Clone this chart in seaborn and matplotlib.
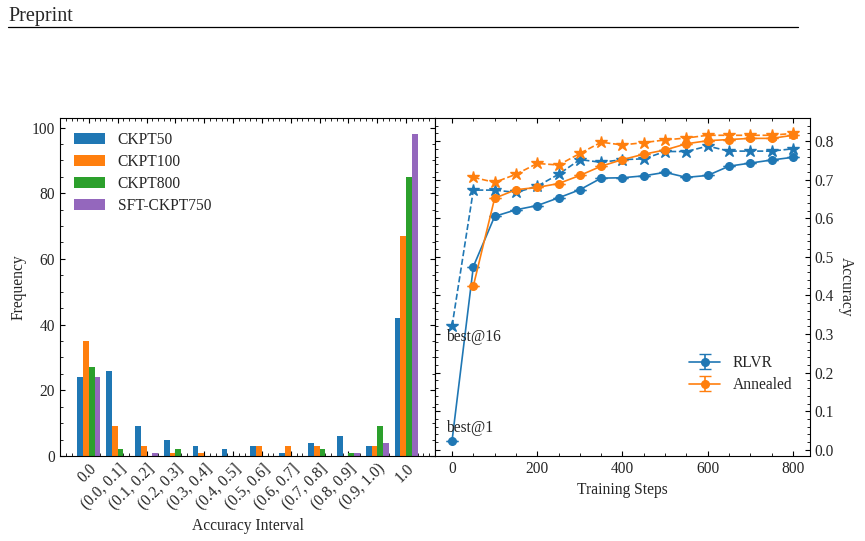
import numpy as np
import pandas as pd
import matplotlib
matplotlib.use("Agg")
import matplotlib.pyplot as plt
from matplotlib.lines import Line2D
from matplotlib.ticker import AutoMinorLocator, MultipleLocator
import seaborn as sns

# ---- data: left panel (accuracy histogram)
intervals = ['0.0', '(0.0, 0.1]', '(0.1, 0.2]', '(0.2, 0.3]', '(0.3, 0.4]', '(0.4, 0.5]',
             '(0.5, 0.6]', '(0.6, 0.7]', '(0.7, 0.8]', '(0.8, 0.9]', '(0.9, 1.0)', '1.0']
ckpt50 = [24, 26, 9, 5, 3, 2, 3, 1, 4, 6, 3, 42]
ckpt100 = [35, 9, 3, 1, 1, 0, 3, 3, 3, 0, 3, 67]
ckpt800 = [27, 2, 0, 2, 0, 0, 0, 0, 2, 1, 9, 85]
sft750 = [24, 0, 1, 0, 0, 0, 0, 0, 0, 1, 4, 98]
series_names = ['CKPT50', 'CKPT100', 'CKPT800', 'SFT-CKPT750']

# ---- data: right panel (accuracy over training)
steps = [0, 50, 100, 150, 200, 250, 300, 350, 400, 450, 500, 550, 600, 650, 700, 750, 800]
rlvr_b1 = [0.024, 0.475, 0.605, 0.622, 0.633, 0.653, 0.674, 0.704, 0.705, 0.710,
           0.719, 0.706, 0.711, 0.735, 0.743, 0.751, 0.758]
rlvr_b16 = [0.321, 0.673, 0.673, 0.667, 0.683, 0.714, 0.752, 0.745, 0.752, 0.754,
            0.773, 0.773, 0.787, 0.774, 0.774, 0.774, 0.780]
ann_steps = steps[1:]
ann_b1 = [0.425, 0.652, 0.674, 0.680, 0.690, 0.711, 0.735, 0.752, 0.766,
          0.777, 0.793, 0.801, 0.804, 0.807, 0.807, 0.815]
ann_b16 = [0.706, 0.693, 0.714, 0.742, 0.738, 0.768, 0.797, 0.790, 0.796,
           0.803, 0.808, 0.815, 0.815, 0.815, 0.815, 0.820]
rlvr_err = [0.0] * len(steps)
ann_err = [0.0] * len(ann_steps)

blue = '#1f77b4'
orange = '#ff7f0e'
palette = ['#1f77b4', '#ff7f0e', '#2ca02c', '#9467bd']

sns.set_style("ticks")
plt.rcParams['font.family'] = ['Liberation Serif', 'DejaVu Serif']
plt.rcParams['font.size'] = 11.2

fig = plt.figure(figsize=(8.65, 5.41), dpi=100)
ax1 = fig.add_axes([0.0694, 0.1571, 0.4335, 0.6248])
ax2 = fig.add_axes([0.5029, 0.1571, 0.4335, 0.6248])

# long format table for seaborn
df = pd.DataFrame({
    'interval': intervals * 4,
    'freq': ckpt50 + ckpt100 + ckpt800 + sft750,
    'model': sum([[n] * len(intervals) for n in series_names], []),
})

sns.barplot(data=df, x='interval', y='freq', hue='model', palette=palette,
            width=0.8, linewidth=0, saturation=1, ax=ax1)
ax1.set_xlim(-1, 12)
ax1.set_ylim(0, 102.9)
ax1.set_xlabel('Accuracy Interval')
ax1.set_ylabel('Frequency')
ax1.set_xticks(range(len(intervals)))
ax1.set_xticklabels(intervals, rotation=45, ha='right', rotation_mode='anchor')
ax1.yaxis.set_major_locator(MultipleLocator(20))
ax1.yaxis.set_minor_locator(MultipleLocator(5))
ax1.xaxis.set_minor_locator(AutoMinorLocator())
ax1.legend(loc='upper left', frameon=False, handlelength=2.0, borderaxespad=0.5,
           labelspacing=0.38)

# right panel
ax2.errorbar(steps, rlvr_b1, yerr=rlvr_err, color=blue, marker='o', ms=5.5,
             lw=1.2, capsize=4, label='RLVR')
ax2.errorbar(ann_steps, ann_b1, yerr=ann_err, color=orange, marker='o', ms=5.5,
             lw=1.2, capsize=4, label='Annealed')
ax2.plot(steps, rlvr_b16, color=blue, marker='*', ms=9, lw=1.2, ls='--')
ax2.plot(ann_steps, ann_b16, color=orange, marker='*', ms=9, lw=1.2, ls='--')
ax2.text(-14, 0.293, 'best@16', va='center', ha='left')
ax2.text(-14, 0.056, 'best@1', va='center', ha='left')
ax2.set_xlabel('Training Steps')
ax2.set_ylabel('Accuracy', rotation=270, labelpad=14)
ax2.yaxis.set_label_position('right')
ax2.yaxis.tick_right()
ax2.xaxis.set_major_locator(MultipleLocator(200))
ax2.yaxis.set_major_locator(MultipleLocator(0.1))
ax2.xaxis.set_minor_locator(AutoMinorLocator())
ax2.yaxis.set_minor_locator(AutoMinorLocator())
ax2.legend(loc='lower right', bbox_to_anchor=(0.99, 0.145), frameon=False,
           labelspacing=0.38)

for ax in (ax1, ax2):
    ax.tick_params(which='both', direction='in', top=True, bottom=True,
                   left=True, right=True, color='black')
    ax.tick_params(which='major', length=3.5, width=0.8)
    ax.tick_params(which='minor', length=2, width=0.6)
    for s in ax.spines.values():
        s.set_linewidth(0.8)
        s.set_color('black')
ax2.tick_params(which='both', labelleft=False, labelright=True)

# page header
fig.text(8 / 865, 1 - 16 / 541, 'Preprint', fontsize=14.5, va='center', ha='left',
         family='Liberation Serif')
fig.add_artist(Line2D([8 / 865, 798 / 865], [1 - 27 / 541] * 2, color='black', lw=0.9))

fig.savefig('out.png', dpi=100)
